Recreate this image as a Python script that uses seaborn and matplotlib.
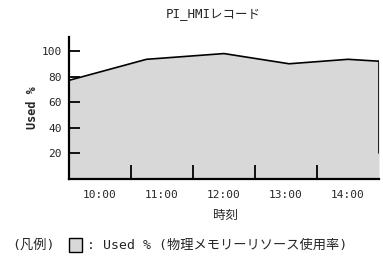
import matplotlib
matplotlib.use("Agg")
import matplotlib.pyplot as plt
import seaborn as sns
import pandas as pd
from matplotlib.patches import Rectangle

# data (hours as decimal)
times = [9.5, 10.75, 12.0, 13.05, 14.0, 14.5]
used = [77, 93.5, 98, 90, 93.5, 92]
hour_ticks = [10, 11, 12, 13, 14]
hour_labels = ["10:00", "11:00", "12:00", "13:00", "14:00"]
y_ticks = [20, 40, 60, 80, 100]

sns.set_theme(style="white")
plt.rcParams['font.family'] = ['DejaVu Sans Mono', 'Noto Sans CJK JP']

df = pd.DataFrame({"time": times, "used": used})

fig = plt.figure(figsize=(3.83, 2.64), dpi=100)
W, H = 383, 264
ax = fig.add_axes([69 / W, 1 - 178.5 / H, (379 - 69) / W, (178.5 - 37) / H])
ax.set_axisbelow(False)

ax.fill_between(df["time"], df["used"], 0, color="#d8d8d8", linewidth=0)
sns.lineplot(data=df, x="time", y="used", ax=ax, color="black", linewidth=1.2)
ax.plot([times[-1], times[-1]], [20, used[-1]], color="black", linewidth=1.2)

ax.set_xlim(9.5, 14.5)
ax.set_ylim(0, 111)
# boundaries between hours as major ticks (no labels), hour labels as minor ticks
ax.set_xticks([h + 0.5 for h in hour_ticks[:-1]])
ax.set_xticklabels([])
ax.set_xticks(hour_ticks, minor=True)
ax.set_xticklabels(hour_labels, minor=True, fontsize=8)
ax.tick_params(axis="x", which="major", direction="in", length=10, width=1.3,
               color="black", bottom=True)
ax.tick_params(axis="x", which="minor", length=0, pad=8, bottom=True)
ax.set_yticks(y_ticks)
ax.set_yticklabels([str(v) for v in y_ticks], fontsize=8)
ax.tick_params(axis="y", direction="in", length=8, width=1.3, color="black", left=True, pad=5)

for s in ["top", "right"]:
    ax.spines[s].set_visible(False)
for s in ["left", "bottom"]:
    ax.spines[s].set_color("black")
    ax.spines[s].set_linewidth(1.6)
    ax.spines[s].set_zorder(3)

ax.set_xlabel("")
ax.set_ylabel("")
ax.grid(False)
ax.set_facecolor("white")

fig.text(32 / W, 1 - 108 / H, "Used %", rotation=90, ha="center", va="center",
         fontsize=8.5, fontweight="bold")
fig.text(225 / W, 1 - 215 / H, "時刻", ha="center", va="center", fontsize=9)
fig.text(213 / W, 1 - 15 / H, "PI_HMIレコード", ha="center", va="center", fontsize=9)

fig.text(12 / W, 1 - 245 / H, "(凡例)", ha="left", va="center", fontsize=9.5)
fig.patches.append(Rectangle((69 / W, 1 - 252 / H), 13 / W, 14 / H, transform=fig.transFigure,
                             facecolor="#d8d8d8", edgecolor="black", linewidth=1))
fig.text(87 / W, 1 - 245 / H, ": Used % (物理メモリーリソース使用率)", ha="left", va="center", fontsize=9.5)

fig.savefig("out.png", dpi=100)
